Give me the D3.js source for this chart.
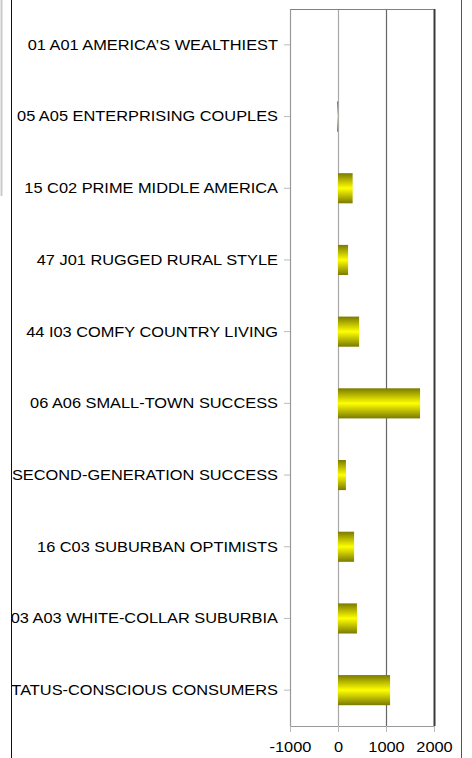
<!DOCTYPE html>
<html>
<head>
<meta charset="utf-8">
<script src="https://cdn.jsdelivr.net/npm/d3@7"></script>
<style>
  body { margin: 0; background: #fff; }
  svg { display: block; }
</style>
</head>
<body>
<div class="chart__container"></div>
<script>
// segment names, top to bottom
const categories = [
    '01 A01 AMERICA\u2019S WEALTHIEST',
    '05 A05 ENTERPRISING COUPLES',
    '15 C02 PRIME MIDDLE AMERICA',
    '47 J01 RUGGED RURAL STYLE',
    '44 I03 COMFY COUNTRY LIVING',
    '06 A06 SMALL-TOWN SUCCESS',
    '07 A07 SECOND-GENERATION SUCCESS',
    '16 C03 SUBURBAN OPTIMISTS',
    '03 A03 WHITE-COLLAR SUBURBIA',
    '08 A08 STATUS-CONSCIOUS CONSUMERS'
];
const values = [0, -20, 305, 210, 440, 1710, 165, 335, 395, 1085];
const xTicks = [-1000, 0, 1000, 2000];
const gridColors = ['#9a9a9a', '#a8a8a8', '#666666', '#3a3a3a'];

function whenDocumentLoaded(action) {
    if (document.readyState === "loading") {
        document.addEventListener("DOMContentLoaded", action);
    } else {
        action();
    }
}

function drawChart() {
    const width = 472, height = 758;
    const plot = {left: 290, right: 434, top: 9, bottom: 726};
    const stretch = 1.17; // the original font renders wider than Liberation Sans
    const font = "'Liberation Sans', Arial, sans-serif";

    const svg = d3.select(".chart__container")
        .append("svg")
        .attr("width", width)
        .attr("height", height);

    const defs = svg.append("defs");

    // bar fill: dark olive at the edges, bright yellow in the middle
    const grad = defs.append("linearGradient")
        .attr("id", "barFill")
        .attr("x1", 0).attr("y1", 0)
        .attr("x2", 0).attr("y2", 1);
    grad.append("stop").attr("offset", "0%").attr("stop-color", "#7a7a00");
    grad.append("stop").attr("offset", "50%").attr("stop-color", "#ffff00");
    grad.append("stop").attr("offset", "100%").attr("stop-color", "#7a7a00");

    // labels get cut by the sheet edge on the left
    defs.append("clipPath")
        .attr("id", "labelClip")
        .append("rect")
        .attr("x", 12).attr("y", 0)
        .attr("width", width).attr("height", height);

    const x = d3.scaleLinear()
        .domain([xTicks[0], xTicks[xTicks.length - 1]])
        .range([plot.left, plot.right]);

    const y = d3.scaleBand()
        .domain(categories)
        .range([plot.top, plot.bottom])
        .paddingInner(0.58)
        .paddingOuter(0.29);

    // outer frame lines
    svg.append("line")
        .attr("x1", 1.5).attr("x2", 1.5)
        .attr("y1", 0).attr("y2", 196)
        .attr("stroke", "#c8ccc8").attr("stroke-width", 2);
    svg.append("line")
        .attr("x1", 11.5).attr("x2", 11.5)
        .attr("y1", 0).attr("y2", height)
        .attr("stroke", "#111");
    svg.append("line")
        .attr("x1", 461.5).attr("x2", 461.5)
        .attr("y1", 0).attr("y2", height)
        .attr("stroke", "#555");

    // vertical gridlines
    svg.append("g")
        .selectAll("line")
        .data(xTicks)
        .enter()
        .append("line")
        .attr("x1", d => Math.round(x(d)) + 0.5)
        .attr("x2", d => Math.round(x(d)) + 0.5)
        .attr("y1", plot.top)
        .attr("y2", plot.bottom)
        .attr("stroke", (d, i) => gridColors[i])
        .attr("stroke-width", (d, i) => i === 3 ? 2 : 1.2);

    // top border
    svg.append("line")
        .attr("x1", plot.left).attr("x2", plot.right)
        .attr("y1", plot.top + 0.5).attr("y2", plot.top + 0.5)
        .attr("stroke", "#808080");

    // bars
    svg.append("g")
        .selectAll("rect")
        .data(values)
        .enter()
        .append("rect")
        .attr("x", d => x(Math.min(0, d)))
        .attr("y", (d, i) => y(categories[i]))
        .attr("width", d => Math.max(1, Math.abs(x(d) - x(0))))
        .attr("height", y.bandwidth())
        .attr("fill", "url(#barFill)")
        .attr("display", d => d === 0 ? "none" : null);

    // x axis at the bottom
    const xAxis = svg.append("g")
        .attr("transform", "translate(0," + plot.bottom + ")")
        .call(d3.axisBottom(x).tickValues(xTicks).tickSize(6).tickFormat(d => String(d)));
    xAxis.select(".domain").attr("stroke", "#999");
    xAxis.selectAll(".tick line").attr("stroke", "#bbb");
    xAxis.selectAll(".tick text")
        .attr("y", 0)
        .attr("dy", null)
        .attr("transform", "translate(0,26) scale(" + stretch + ",1)")
        .style("font-family", font)
        .style("font-size", "14px")
        .attr("fill", "#000");

    // category axis on the left (ticks only, labels drawn below)
    const yAxis = svg.append("g")
        .attr("transform", "translate(" + plot.left + ",0)")
        .call(d3.axisLeft(y).tickSize(6).tickFormat(""));
    yAxis.select(".domain").attr("stroke", "#999").attr("d", "M0.5," + plot.top + "V" + plot.bottom);
    yAxis.selectAll(".tick line").attr("stroke", "#bbb");

    // labels in a clipped group so the long names get cut at the frame
    svg.append("g")
        .attr("clip-path", "url(#labelClip)")
        .selectAll("text")
        .data(categories)
        .enter()
        .append("text")
        .attr("transform", d => "translate(" + (plot.left - 12) + "," + (y(d) + y.bandwidth() / 2) + ") scale(" + stretch + ",1)")
        .attr("dy", "0.35em")
        .attr("text-anchor", "end")
        .style("font-family", font)
        .style("font-size", "14px")
        .attr("fill", "#000")
        .text(d => d);
}

whenDocumentLoaded(drawChart);
</script>
</body>
</html>
